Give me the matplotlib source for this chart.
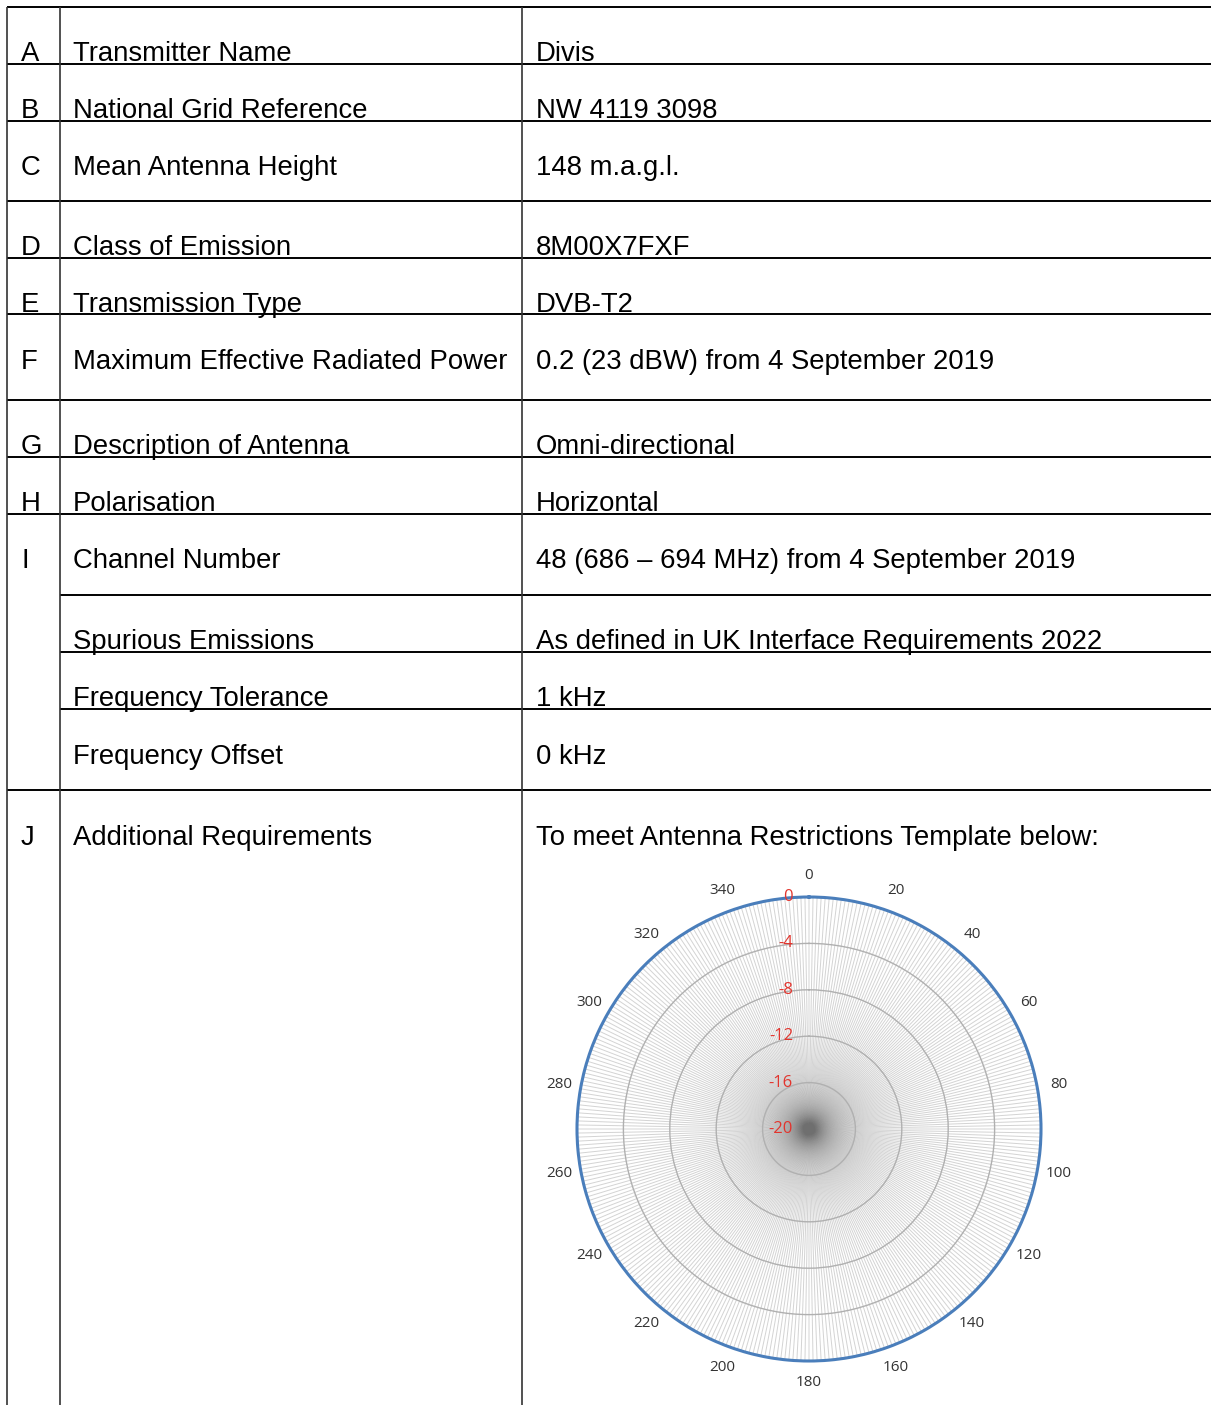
import numpy as np
import matplotlib
matplotlib.use("Agg")
import matplotlib.pyplot as plt
import matplotlib.transforms as mtransforms

plt.rcParams['font.family'] = ['Liberation Sans', 'DejaVu Sans']

# ---------------- data ----------------
row_letters = ["A", "B", "C", "D", "E", "F", "G", "H", "I", "", "", "", "J"]
row_names = [
    "Transmitter Name",
    "National Grid Reference",
    "Mean Antenna Height",
    "Class of Emission",
    "Transmission Type",
    "Maximum Effective Radiated Power",
    "Description of Antenna",
    "Polarisation",
    "Channel Number",
    "Spurious Emissions",
    "Frequency Tolerance",
    "Frequency Offset",
    "Additional Requirements",
]
row_values = [
    "Divis",
    "NW 4119 3098",
    "148 m.a.g.l.",
    "8M00X7FXF",
    "DVB-T2",
    "0.2 (23 dBW) from 4 September 2019",
    "Omni-directional",
    "Horizontal",
    "48 (686 \u2013 694 MHz) from 4 September 2019",
    "As defined in UK Interface Requirements 2022",
    "1 kHz",
    "0 kHz",
    "To meet Antenna Restrictions Template below:",
]

template_angle_deg = [0, 10, 20, 30, 40, 50, 60, 70, 80, 90, 100, 110, 120,
                      130, 140, 150, 160, 170, 180, 190, 200, 210, 220, 230,
                      240, 250, 260, 270, 280, 290, 300, 310, 320, 330, 340,
                      350, 360]
template_db = [0, 0, 0, 0, 0, 0, 0, 0, 0, 0, 0, 0, 0,
               0, 0, 0, 0, 0, 0, 0, 0, 0, 0, 0,
               0, 0, 0, 0, 0, 0, 0, 0, 0, 0, 0,
               0, 0]
r_ticks = [0, -4, -8, -12, -16, -20]
theta_label_step = 20

# ---------------- layout ----------------
W, H = 1211, 1405
fig = plt.figure(figsize=(W / 100, H / 100), dpi=100)
fig.patch.set_facecolor("white")

tab = fig.add_axes([0, 0, 1, 1])
tab.set_xlim(0, W)
tab.set_ylim(H, 0)
tab.axis("off")

x_left, x_c1, x_c2, x_right = 7, 60, 522, 1211
hlines = [(7, x_left), (64, x_left), (121, x_left), (201, x_left), (258, x_left),
          (314, x_left), (400, x_left), (457, x_left), (514, x_left),
          (595, x_c1), (652, x_c1), (709, x_c1), (790, x_left)]
for y, xs in hlines:
    tab.plot([xs, x_right], [y, y], color="black", lw=1.4, solid_capstyle="butt")
for x in (x_left, x_c1, x_c2):
    tab.plot([x, x], [7, H], color="#333333", lw=1.2, solid_capstyle="butt")

baselines = [61, 118, 175, 255, 312, 369, 454, 511, 568, 649, 706, 764, 845]
fs = 19.8
for letter, name, val, yb in zip(row_letters, row_names, row_values, baselines):
    if letter:
        tab.text(21, yb, letter, fontsize=fs, va="baseline", ha="left", color="black")
    tab.text(73, yb, name, fontsize=fs, va="baseline", ha="left", color="black")
    tab.text(536, yb, val, fontsize=fs, va="baseline", ha="left", color="black")

# ---------------- polar chart ----------------
cx, cy, R = 809, 1129, 232
ax = fig.add_axes([(cx - R) / W, 1 - (cy + R) / H, 2 * R / W, 2 * R / H],
                  projection="polar")
ax.set_theta_zero_location("N")
ax.set_theta_direction(-1)
ax.set_ylim(-20, 0)
ax.set_facecolor("none")
ax.spines["polar"].set_visible(False)

spokes = np.arange(0, 360, 1)
ax.set_xticks(np.deg2rad(spokes))
ax.set_xticklabels([str(a) if a % theta_label_step == 0 else "" for a in spokes],
                   fontsize=11, color="#333333", family=["Open Sans", "DejaVu Sans"])
ax.tick_params(axis="x", pad=5)
ax.xaxis.grid(True, color="#6f6f6f", lw=0.7, alpha=0.3, snap=False)

ax.set_yticks(r_ticks)
ax.set_yticklabels([])
ax.yaxis.grid(True, color="#b0b0b0", lw=1.0)

off = mtransforms.offset_copy(ax.transData, fig=fig, x=-16, y=0, units="dots")
for v in r_ticks:
    ax.text(0, v, str(v), transform=off, ha="right", va="center",
            fontsize=12, color="#e2352e", family=["Open Sans", "DejaVu Sans"],
            zorder=6)

line, = ax.plot(np.deg2rad(template_angle_deg), template_db, color="#4a7ebb",
                lw=2.2, clip_on=False, zorder=5)
line.get_path()._interpolation_steps = 60

fig.savefig("out.png", dpi=100, facecolor="white")
